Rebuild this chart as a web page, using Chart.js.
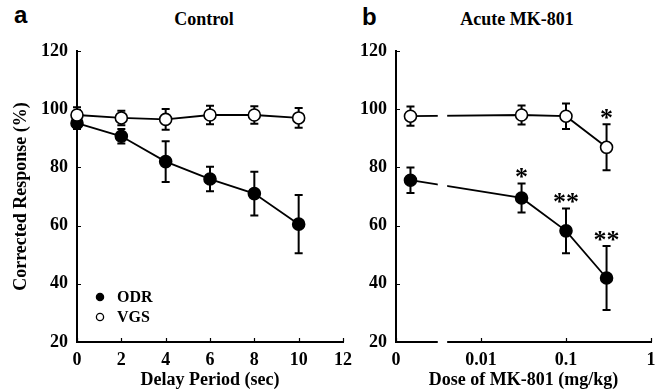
<!DOCTYPE html>
<html>
<head>
<meta charset="utf-8">
<script src="https://cdn.jsdelivr.net/npm/chart.js@4.4.1/dist/chart.umd.min.js"></script>
<style>
  html, body { margin: 0; padding: 0; background: #fff; }
  body { width: 667px; height: 391px; position: relative; overflow: hidden; }
  canvas { position: absolute; top: 0; }
  .lbl { position: absolute; font-family: "Liberation Sans", Arial, sans-serif; font-weight: bold; font-size: 24px; line-height: 24px; color: #000; }
  .ttl { position: absolute; font-family: "Liberation Serif", "Times New Roman", serif; font-weight: bold; font-size: 18px; line-height: 18px; color: #000; text-align: center; width: 240px; }
</style>
</head>
<body>
<div class="lbl" style="left:14px; top:3px;">a</div>
<div class="lbl" style="left:362px; top:5px;">b</div>
<div class="ttl" style="left:84px; top:10px;">Control</div>
<div class="ttl" style="left:397px; top:10px;">Acute MK-801</div>
<div style="position:absolute;left:0;top:0;width:360px;height:391px;"><canvas id="ca" width="360" height="391"></canvas></div>
<div style="position:absolute;left:340px;top:0;width:327px;height:391px;"><canvas id="cb" width="327" height="391"></canvas></div>
<script>
// ---------- data ----------
const delays = [0, 2, 4, 6, 8, 10];
const odrA = [95.2, 90.7, 82.0, 76.0, 71.0, 60.5];
const odrAErr = [2.0, 2.5, 7.0, 4.2, 7.5, 10.0];
const vgsA = [98.0, 97.0, 96.5, 98.0, 98.0, 97.0];
const vgsAErr = [2.7, 2.5, 3.6, 3.2, 3.0, 3.4];

const doses = [0, 0.03, 0.1, 0.3];
const odrB = [75.6, 69.5, 58.2, 42.0];
const odrBErr = [4.4, 5.0, 7.7, 11.0];
const vgsB = [97.6, 98.0, 97.6, 86.9];
const vgsBErr = [3.3, 3.3, 4.4, 7.9];
const odrBSig = ['', '*', '**', '**'];
const vgsBSig = ['', '', '', '*'];

const yTicks = [20, 40, 60, 80, 100, 120];
const xTicksA = [0, 2, 4, 6, 8, 10, 12];
const xTicksB = [0.001, 0.01, 0.1, 1];
const xTickLabelsB = ['0', '0.01', '0.1', '1'];

// layout constants (not data)
const CONTROL_X = 0.00148;   // where the 0-dose group is placed on the log axis
const BREAK_FROM = 0.0031, BREAK_TO = 0.004;

const SERIF = '"Liberation Serif", "Times New Roman", serif';
Chart.defaults.color = '#000';
Chart.defaults.font.family = SERIF;
Chart.defaults.font.weight = 'bold';
Chart.defaults.font.size = 18;
Chart.defaults.animation = false;

function pts(xs, ys) { return xs.map((x, i) => ({x: x, y: ys[i]})); }

function seriesStyle(filled) {
  return {
    showLine: true,
    borderColor: '#000',
    borderWidth: 1.8,
    pointRadius: 6,
    pointHoverRadius: 6,
    pointBorderWidth: 1.6,
    pointBorderColor: '#000',
    pointBackgroundColor: filled ? '#000' : '#fff',
    backgroundColor: filled ? '#000' : '#fff',
    clip: false,
    tension: 0
  };
}

const errPlugin = {
  id: 'errbars',
  beforeDatasetsDraw(chart) {
    const ctx = chart.ctx;
    const xs = chart.scales.x, ys = chart.scales.y;
    ctx.save();
    ctx.strokeStyle = '#000';
    ctx.lineWidth = 2;
    chart.data.datasets.forEach(ds => {
      ds.data.forEach((p, i) => {
        const e = ds.errors[i];
        const px = xs.getPixelForValue(p.x);
        const t = ys.getPixelForValue(p.y + e), b = ys.getPixelForValue(p.y - e);
        ctx.beginPath();
        ctx.moveTo(px, t); ctx.lineTo(px, b);
        ctx.moveTo(px - 4, t); ctx.lineTo(px + 4, t);
        ctx.moveTo(px - 4, b); ctx.lineTo(px + 4, b);
        ctx.stroke();
      });
    });
    ctx.restore();
  },
  afterDatasetsDraw(chart, args, opts) {
    const ctx = chart.ctx;
    const xs = chart.scales.x, ys = chart.scales.y;
    const ca = chart.chartArea;
    ctx.save();
    // inward tick marks
    ctx.strokeStyle = '#000';
    ctx.lineWidth = 1.2;
    ctx.beginPath();
    ys.ticks.forEach(t => {
      const py = Math.round(ys.getPixelForValue(t.value)) + 0.5;
      ctx.moveTo(ca.left, py); ctx.lineTo(ca.left + 4, py);
    });
    xs.ticks.forEach(t => {
      const px = Math.round(xs.getPixelForValue(t.value)) + 0.5;
      ctx.moveTo(px, ca.bottom); ctx.lineTo(px, ca.bottom - 4);
    });
    ctx.stroke();
    // axis break
    if (opts.breakAxis) {
      const x1 = xs.getPixelForValue(BREAK_FROM), x2 = xs.getPixelForValue(BREAK_TO);
      ctx.fillStyle = '#fff';
      ctx.fillRect(x1, ca.top - 2, x2 - x1, ca.bottom - ca.top + 6);
    }
    // significance stars
    ctx.fillStyle = '#000';
    ctx.font = 'bold 26px ' + SERIF;
    ctx.textAlign = 'center';
    ctx.textBaseline = 'alphabetic';
    chart.data.datasets.forEach(ds => {
      if (!ds.sig) return;
      ds.data.forEach((p, i) => {
        const s = ds.sig[i];
        if (!s) return;
        const px = xs.getPixelForValue(p.x);
        const top = ys.getPixelForValue(p.y + ds.errors[i]);
        const m = ctx.measureText(s);
        const h = m.actualBoundingBoxAscent - m.actualBoundingBoxDescent;
        // centre of the glyph placed ~10px above the error-bar cap
        const base = top - 10 + (m.actualBoundingBoxAscent + m.actualBoundingBoxDescent) / 2 - m.actualBoundingBoxDescent;
        ctx.fillText(s, px, base + (h - h));
      });
    });
    // legend
    if (opts.legend) {
      const lx = ca.left + 23;
      const rows = [{ds: chart.data.datasets.find(d => d.label === 'ODR'), y: ca.bottom - 45},
                    {ds: chart.data.datasets.find(d => d.label === 'VGS'), y: ca.bottom - 25}];
      ctx.font = 'bold 16px ' + SERIF;
      ctx.textAlign = 'left';
      ctx.textBaseline = 'middle';
      rows.forEach(r => {
        ctx.beginPath();
        ctx.arc(lx, r.y, 3.6, 0, Math.PI * 2);
        ctx.fillStyle = r.ds.pointBackgroundColor;
        ctx.fill();
        ctx.lineWidth = 1.3;
        ctx.strokeStyle = '#000';
        ctx.stroke();
        ctx.fillStyle = '#000';
        ctx.fillText(r.ds.label, lx + 17, r.y + 1);
      });
    }
    ctx.restore();
  }
};

function yScale(width, withTitle) {
  return {
    type: 'linear', min: 20, max: 120,
    afterBuildTicks: s => { s.ticks = yTicks.map(v => ({value: v})); },
    afterFit: s => { s.width = width; },
    grid: {display: false, drawTicks: false},
    border: {display: true, color: '#000', width: 2},
    ticks: {padding: 9, color: '#000', font: {size: 18, weight: 'bold', family: SERIF}},
    title: withTitle ? {display: true, text: 'Corrected Response (%)', color: '#000',
      font: {size: 18, weight: 'bold', family: SERIF}, padding: {top: 11, bottom: 0}} : {display: false}
  };
}

// ---------- panel a ----------
new Chart(document.getElementById('ca'), {
  type: 'scatter',
  data: {
    datasets: [
      Object.assign({label: 'VGS', data: pts(delays, vgsA), errors: vgsAErr}, seriesStyle(false)),
      Object.assign({label: 'ODR', data: pts(delays, odrA), errors: odrAErr}, seriesStyle(true))
    ]
  },
  options: {
    responsive: false,
    layout: {padding: {top: 51, right: 16, bottom: 0, left: 0}},
    plugins: {legend: {display: false}, tooltip: {enabled: false}, errbars: {legend: true, breakAxis: false}},
    scales: {
      x: {
        type: 'linear', min: 0, max: 12,
        afterBuildTicks: s => { s.ticks = xTicksA.map(v => ({value: v})); },
        afterFit: s => { s.height = 49; },
        grid: {display: false, drawTicks: false},
        border: {display: true, color: '#000', width: 2},
        ticks: {padding: 8, maxRotation: 0, color: '#000', font: {size: 18, weight: 'bold', family: SERIF}},
        title: {display: true, text: 'Delay Period (sec)', color: '#000',
          font: {size: 18, weight: 'bold', family: SERIF}, padding: {top: 0, bottom: 0}}
      },
      y: yScale(77, true)
    }
  },
  plugins: [errPlugin]
});

// ---------- panel b ----------
const doseX = doses.map(d => d === 0 ? CONTROL_X : d);
new Chart(document.getElementById('cb'), {
  type: 'scatter',
  data: {
    datasets: [
      Object.assign({label: 'VGS', data: pts(doseX, vgsB), errors: vgsBErr, sig: vgsBSig}, seriesStyle(false)),
      Object.assign({label: 'ODR', data: pts(doseX, odrB), errors: odrBErr, sig: odrBSig}, seriesStyle(true))
    ]
  },
  options: {
    responsive: false,
    layout: {padding: {top: 51, right: 16, bottom: 0, left: 0}},
    plugins: {legend: {display: false}, tooltip: {enabled: false}, errbars: {legend: false, breakAxis: true}},
    scales: {
      x: {
        type: 'logarithmic', min: 0.001, max: 1,
        afterBuildTicks: s => { s.ticks = xTicksB.map(v => ({value: v})); },
        afterFit: s => { s.height = 49; },
        grid: {display: false, drawTicks: false},
        border: {display: true, color: '#000', width: 2},
        ticks: {padding: 8, maxRotation: 0, autoSkip: false, color: '#000',
          font: {size: 18, weight: 'bold', family: SERIF},
          callback: (v) => { const i = xTicksB.findIndex(t => Math.abs(t - v) < 1e-9); return i >= 0 ? xTickLabelsB[i] : ''; }},
        title: {display: true, text: 'Dose of MK-801 (mg/kg)', color: '#000',
          font: {size: 18, weight: 'bold', family: SERIF}, padding: {top: 0, bottom: 0}}
      },
      y: yScale(56, false)
    }
  },
  plugins: [errPlugin]
});
</script>
</body>
</html>
